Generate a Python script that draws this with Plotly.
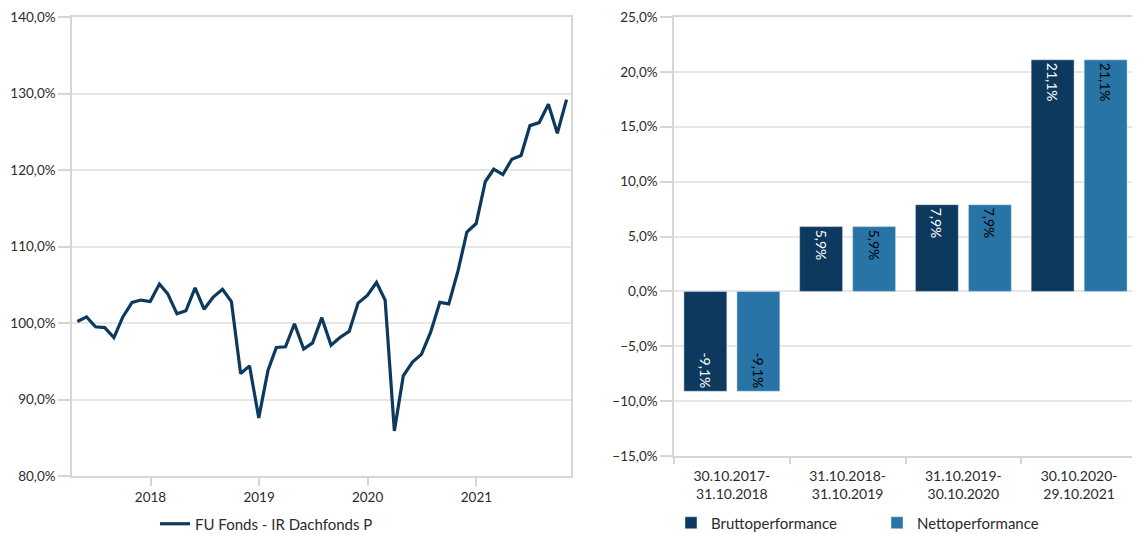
import pandas as pd
import plotly.graph_objects as go

# ---------------- data ----------------
line_name = "FU Fonds - IR Dachfonds P"
line_start = "2017-04-30"
line_values = [
    100.2, 100.8, 99.5, 99.4, 98.1, 100.8, 102.7, 103.0, 102.8, 105.1,
    103.8, 101.2, 101.6, 104.6, 101.8, 103.4, 104.4, 102.8, 93.4, 94.4,
    87.6, 93.8, 96.8, 96.9, 99.9, 96.6, 97.4, 100.7, 97.1, 98.1,
    98.9, 102.6, 103.6, 105.3, 103.0, 85.9, 93.1, 94.9, 95.9, 98.8,
    102.7, 102.5, 106.8, 111.9, 113.0, 118.5, 120.1, 119.4, 121.4, 121.9,
    125.8, 126.2, 128.6, 124.8, 129.2,
]
line_dates = pd.date_range(line_start, periods=len(line_values), freq=pd.offsets.MonthEnd())

periods = [
    "30.10.2017-<br>31.10.2018",
    "31.10.2018-<br>31.10.2019",
    "31.10.2019-<br>30.10.2020",
    "30.10.2020-<br>29.10.2021",
]
brutto = [-9.1, 5.9, 7.9, 21.1]
netto = [-9.1, 5.9, 7.9, 21.1]

# ---------------- style ----------------
DARK = "#0C395D"
LIGHT = "#2874A6"
AXIS = "#d6d6d6"
GRID = "#e6e6e6"
TXT = "#2b2b2b"
FONT = "Lato"
OFF = 8               # page body margin
W, H = 1140 - OFF, 534 - OFF

def px_x(p):
    return (p - OFF) / W

def px_y(p):
    return (H - (p - OFF)) / H

fig = go.Figure()

fig.add_trace(go.Scatter(
    x=line_dates, y=line_values, mode="lines", name=line_name,
    line=dict(color=DARK, width=3.2), xaxis="x", yaxis="y",
    legend="legend", showlegend=True,
))

fig.add_trace(go.Bar(
    x=periods, y=brutto, name="Bruttoperformance", marker_color=DARK,
    texttemplate="%{y:.1f}%", textposition="inside", insidetextanchor="end",
    textangle=90, textfont=dict(color="white", size=14, family=FONT),
    xaxis="x2", yaxis="y2", legend="legend2", showlegend=True,
))
fig.add_trace(go.Bar(
    x=periods, y=netto, name="Nettoperformance", marker_color=LIGHT,
    texttemplate="%{y:.1f}%", textposition="inside", insidetextanchor="end",
    textangle=90, textfont=dict(color="black", size=14, family=FONT),
    xaxis="x2", yaxis="y2", legend="legend2", showlegend=True,
))

axis_common = dict(
    showline=True, linecolor=AXIS, linewidth=1.5, mirror=True,
    ticks="outside", tickcolor=AXIS, tickwidth=1.5,
    tickfont=dict(size=13.5, color=TXT, family=FONT), zeroline=False,
    automargin=False, ticklabeloverflow="allow",
)

TOP = 17

fig.update_layout(
    width=W, height=H,
    margin=dict(l=0, r=0, t=0, b=0, autoexpand=False),
    paper_bgcolor="white", plot_bgcolor="white",
    separators=", ",
    showlegend=True,
    font=dict(family=FONT, color=TXT, size=13.5),
    barmode="group", bargap=0.084, bargroupgap=0.19,
    uniformtext=dict(minsize=14, mode="show"),
    xaxis=dict(
        domain=[px_x(72), px_x(571)], anchor="y", type="date",
        range=["2017-04-12", "2021-11-15"],
        tick0="2018-01-01", dtick="M12", tickformat="%Y", ticklen=8,
        showgrid=False, **axis_common,
    ),
    yaxis=dict(
        domain=[px_y(476), px_y(TOP)], anchor="x",
        range=[80, 140], dtick=10, tickformat=".1f", ticksuffix="%", ticklen=12,
        showgrid=True, gridcolor=GRID, gridwidth=1.5, **axis_common,
    ),
    xaxis2=dict(
        domain=[px_x(674), px_x(1137)], anchor="y2", type="category",
        tickson="boundaries", ticklen=6, ticklabelstandoff=6,
        showgrid=False, **{**axis_common, "tickfont": dict(size=14, color=TXT, family=FONT)},
    ),
    yaxis2=dict(
        domain=[px_y(456), px_y(TOP)], anchor="x2",
        range=[-15, 25], dtick=5, tickformat=".1f", ticksuffix="%", ticklen=12,
        showgrid=True, gridcolor=GRID, gridwidth=1.5, **axis_common,
    ),
    legend=dict(
        orientation="h", x=px_x(155), y=px_y(524), xanchor="left", yanchor="middle",
        font=dict(size=15, color=TXT, family=FONT), bgcolor="rgba(0,0,0,0)",
    ),
    legend2=dict(
        orientation="h", x=px_x(671), y=px_y(523), xanchor="left", yanchor="middle",
        font=dict(size=15, color=TXT, family=FONT), bgcolor="rgba(0,0,0,0)",
        entrywidth=161, entrywidthmode="pixels",
    ),
)

fig.write_html("out.html")
